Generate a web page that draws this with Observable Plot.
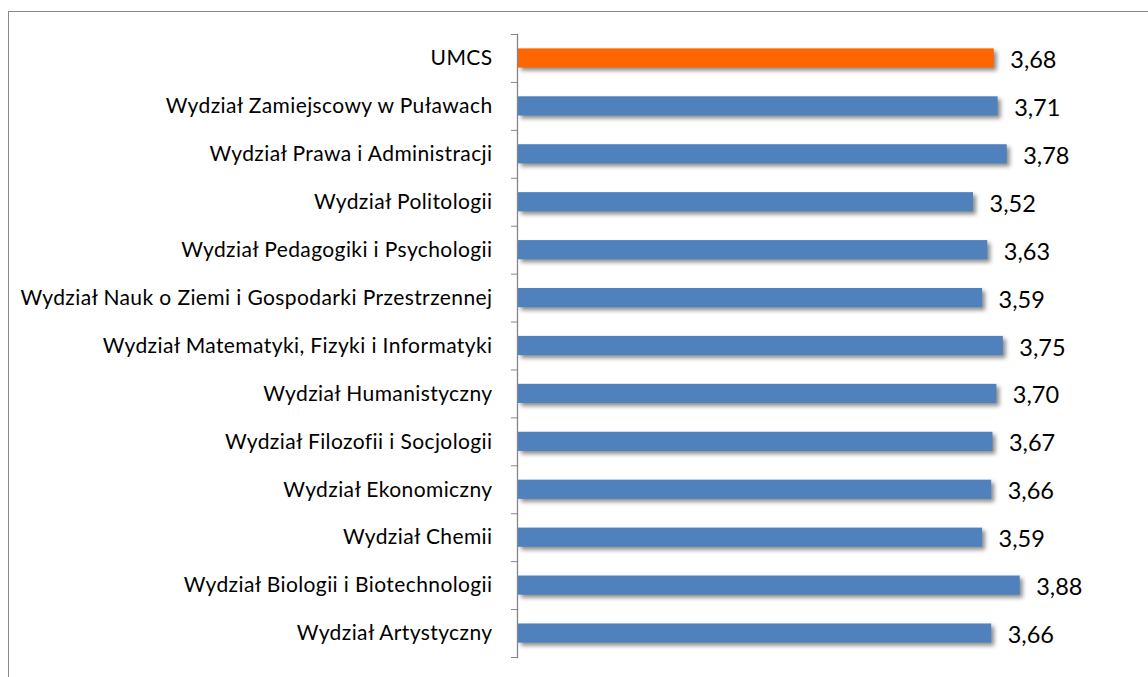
<!DOCTYPE html>
<html>
<head>
<meta charset="utf-8">
<script src="https://cdn.jsdelivr.net/npm/d3@7"></script>
<script src="https://cdn.jsdelivr.net/npm/@observablehq/plot@0.6"></script>
<style>
  html, body { margin: 0; padding: 0; background: #fff; }
  #wrap { position: relative; width: 1148px; height: 677px; overflow: hidden; }
  #frame { position: absolute; left: 8px; top: 11px; width: 1200px; height: 700px;
           border-left: 1.5px solid #8a8a8a; border-top: 1.5px solid #8a8a8a; pointer-events: none; }
  #chart { position: absolute; left: 0; top: 0; }
  #chart svg [aria-label="bar"] rect { filter: drop-shadow(3px 3px 2px rgba(0,0,0,0.45)); }
  #chart svg [aria-label="y-axis tick label"] text { letter-spacing: 0.4px; }
</style>
</head>
<body>
<div id="wrap"><div id="chart"></div><div id="frame"></div></div>
<script>
const categories = [
  "UMCS",
  "Wydział Zamiejscowy w Puławach",
  "Wydział Prawa i Administracji",
  "Wydział Politologii",
  "Wydział Pedagogiki i Psychologii",
  "Wydział Nauk o Ziemi i Gospodarki Przestrzennej",
  "Wydział Matematyki, Fizyki i Informatyki",
  "Wydział Humanistyczny",
  "Wydział Filozofii i Socjologii",
  "Wydział Ekonomiczny",
  "Wydział Chemii",
  "Wydział Biologii i Biotechnologii",
  "Wydział Artystyczny"
];
const values = [3.68, 3.71, 3.78, 3.52, 3.63, 3.59, 3.75, 3.70, 3.67, 3.66, 3.59, 3.88, 3.66];
const highlight = "UMCS";

const data = categories.map((c, i) => ({name: c, value: values[i]}));

const W = 1148, H = 677, mTop = 34, mBottom = 20, mLeft = 517, mRight = 48;
const step = (H - mTop - mBottom) / categories.length;
const fmt = v => v.toFixed(2).replace(".", ",");

const chart = Plot.plot({
  width: W,
  height: H,
  marginTop: mTop,
  marginBottom: mBottom,
  marginLeft: mLeft,
  marginRight: mRight,
  style: {fontFamily: "Lato, 'Open Sans', sans-serif", color: "#000", background: "transparent"},
  x: {domain: [0, 4.5], axis: null},
  y: {domain: categories, paddingInner: 0.6, paddingOuter: 0.3, round: false, label: null},
  marks: [
    Plot.barX(data, {
      x: "value", y: "name", insetLeft: 1,
      fill: d => d.name === highlight ? "#FF6600" : "#4F81BD"
    }),
    Plot.text(data, {
      x: "value", y: "name", text: d => fmt(d.value),
      textAnchor: "start", dx: 16, dy: 2, fontSize: 23.5, fill: "#000"
    }),
    Plot.axisY({tickSize: 0, tickPadding: 25, fontSize: 21, label: null, fill: "#000"}),
    Plot.axisY({tickSize: 6, tickFormat: () => "", dy: -step / 2, stroke: "#868686", label: null}),
    Plot.axisY(categories.slice(-1), {tickSize: 6, tickFormat: () => "", dy: step / 2, stroke: "#868686", label: null}),
    Plot.frame({anchor: "left", stroke: "#868686", strokeWidth: 1.3})
  ]
});
document.getElementById("chart").appendChild(chart);
</script>
</body>
</html>
